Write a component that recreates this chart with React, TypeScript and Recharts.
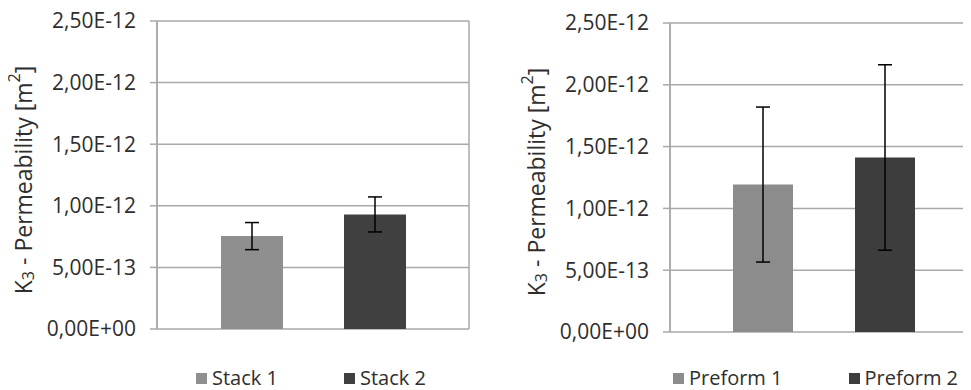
import { BarChart, Bar, XAxis, YAxis, CartesianGrid, Legend, ErrorBar, Label } from 'recharts';

// left panel
const stackNames = ['Stack 1', 'Stack 2'];
const stackMeans = [7.54e-13, 9.3e-13];
const stackErrors = [1.1e-13, 1.42e-13];
const stackColors = ['#8f8f8f', '#404040'];

// right panel
const preformNames = ['Preform 1', 'Preform 2'];
const preformMeans = [1.193e-12, 1.412e-12];
const preformErrors = [6.27e-13, 7.5e-13];
const preformColors = ['#8c8c8c', '#3d3d3d'];

const yTicks = [0, 5e-13, 1e-12, 1.5e-12, 2e-12, 2.5e-12];

const FONT = '"Open Sans", sans-serif';
const TEXT = '#2e2e2e';
const GRID = '#a9a9a9';

const fmt = (v: number) => {
  const [m, e] = v.toExponential(2).split('e');
  const n = parseInt(e, 10);
  return m.replace('.', ',') + 'E' + (n < 0 ? '-' : '+') + String(Math.abs(n)).padStart(2, '0');
};

const toRow = (means: number[], errors: number[]) => {
  const row: any = { name: 'k3' };
  means.forEach((m, i) => {
    row['s' + i] = m;
    row['e' + i] = errors[i];
  });
  return [row];
};

const AxisTitle = ({ cx, cy }: { cx: number; cy: number }) => (
  <text
    x={cx}
    y={cy}
    transform={`rotate(-90, ${cx}, ${cy})`}
    textAnchor="middle"
    dominantBaseline="central"
    fontFamily={FONT}
    fontSize={23}
    fill={TEXT}
  >
    <tspan>K</tspan>
    <tspan dy={5} fontSize={16}>3</tspan>
    <tspan dy={-5}> - Permeability [m</tspan>
    <tspan dy={-9} fontSize={16}>2</tspan>
    <tspan dy={9}>]</tspan>
  </text>
);

const renderLegend = (left: number) => (props: any) => (
  <div
    style={{
      display: 'flex',
      gap: 66,
      marginLeft: left,
      fontFamily: FONT,
      fontSize: 20,
      color: TEXT,
      lineHeight: '22px',
    }}
  >
    {(props.payload || []).map((entry: any) => (
      <div key={entry.value} style={{ display: 'flex', alignItems: 'center' }}>
        <span style={{ width: 11, height: 11, background: entry.color, marginRight: 5, display: 'inline-block' }} />
        <span>{entry.value}</span>
      </div>
    ))}
  </div>
);

type PanelProps = {
  names: string[];
  means: number[];
  errors: number[];
  colors: string[];
  width: number;
  margin: { top: number; right: number; bottom: number; left: number };
  axisWidth: number;
  barSize: number;
  barGap: number;
  titleX: number;
  titleY: number;
  legendLeft: number;
};

const Panel = (p: PanelProps) => {
  const data = toRow(p.means, p.errors);
  return (
    <BarChart
      width={p.width}
      height={390}
      data={data}
      margin={p.margin}
      barSize={p.barSize}
      barGap={p.barGap}
    >
      <CartesianGrid
        stroke={GRID}
        strokeWidth={1.5}
        verticalCoordinatesGenerator={({ offset }: any) => [offset.left, offset.left + offset.width]}
      />
      <XAxis dataKey="name" hide />
      <YAxis
        width={p.axisWidth}
        domain={[0, 2.5e-12]}
        ticks={yTicks}
        tickFormatter={fmt}
        interval={0}
        tickSize={7}
        tickMargin={14}
        axisLine={{ stroke: GRID, strokeWidth: 1.5 }}
        tickLine={{ stroke: GRID, strokeWidth: 1.5 }}
        tick={{ fill: TEXT, fontSize: 21, fontFamily: FONT }}
      >
        <Label
          content={(lp: any) => (
            <AxisTitle cx={lp.viewBox.x + p.titleX} cy={p.titleY} />
          )}
        />
      </YAxis>
      <Legend
        layout="horizontal"
        verticalAlign="middle"
        align="center"
        wrapperStyle={{ top: 367, left: 0, width: p.width }}
        content={renderLegend(p.legendLeft)}
      />
      {p.names.map((n, i) => (
        <Bar key={n} dataKey={'s' + i} name={n} fill={p.colors[i]} isAnimationActive={false}>
          <ErrorBar
            dataKey={'e' + i}
            width={7}
            stroke="#000"
            strokeWidth={1.5}
            direction="y"
            isAnimationActive={false}
          />
        </Bar>
      ))}
    </BarChart>
  );
};

export default function App() {
  return (
    <div
      style={{
        position: 'relative',
        width: 971,
        height: 390,
        marginLeft: -8,
        marginTop: -8,
        overflow: 'hidden',
        background: '#fff',
      }}
    >
      <div style={{ position: 'absolute', left: 0, top: 0 }}>
        <Panel
          names={stackNames}
          means={stackMeans}
          errors={stackErrors}
          colors={stackColors}
          width={485}
          margin={{ top: 21, right: 16, bottom: 61, left: 0 }}
          axisWidth={157}
          barSize={62}
          barGap={61}
          titleX={23}
          titleY={180}
          legendLeft={196}
        />
      </div>
      <div style={{ position: 'absolute', left: 490, top: 0 }}>
        <Panel
          names={preformNames}
          means={preformMeans}
          errors={preformErrors}
          colors={preformColors}
          width={500}
          margin={{ top: 23, right: 12, bottom: 58, left: 0 }}
          axisWidth={180}
          barSize={60}
          barGap={62}
          titleX={46}
          titleY={182}
          legendLeft={183}
        />
      </div>
    </div>
  );
}
